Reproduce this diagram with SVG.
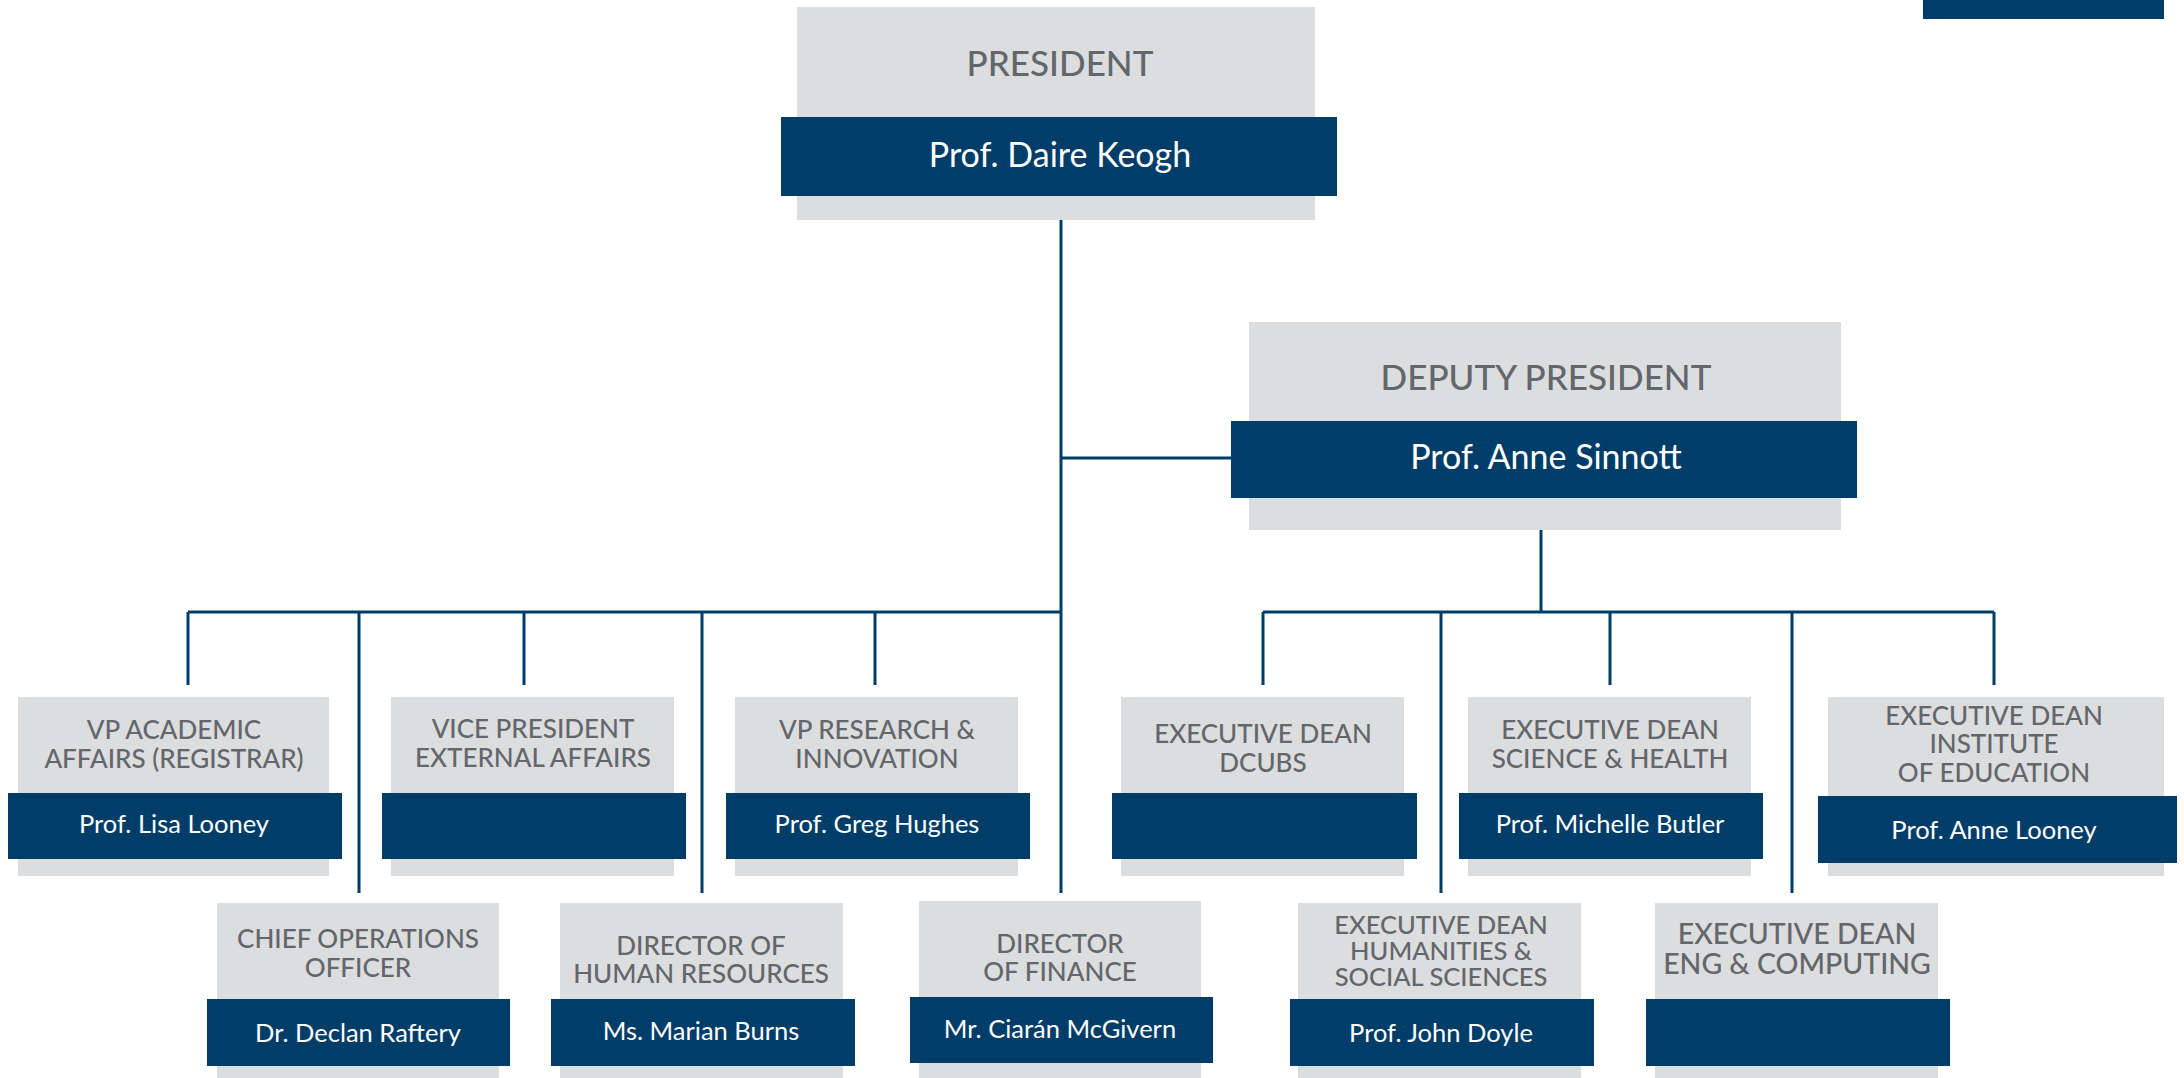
<svg xmlns="http://www.w3.org/2000/svg" width="2184" height="1078" viewBox="0 0 2184 1078">
<style>
.bg{fill:#dcdddf}
.bar{fill:#003d68}
.t{font-family:Lato,"Liberation Sans",sans-serif;font-weight:500;fill:#63666a;text-anchor:middle;font-size:26px}
.tl{font-size:35px}
.n{font-family:Lato,"Liberation Sans",sans-serif;font-weight:400;fill:#ffffff;text-anchor:middle;font-size:25.5px}
.nl{font-size:34px}
.c{stroke:#003d68;stroke-width:3;fill:none}
</style>
<rect width="2184" height="1078" fill="#ffffff"/>
<rect x="1923" y="0" width="241" height="19" class="bar"/>
<g id="connectors">
<path class="c" d="M1061 220V893"/>
<path class="c" d="M1061 458H1231"/>
<path class="c" d="M188 612H1061"/>
<path class="c" d="M188 612V685M524 612V685M875 612V685"/>
<path class="c" d="M359 612V893M702 612V893"/>
<path class="c" d="M1541 530V612"/>
<path class="c" d="M1263 612H1994"/>
<path class="c" d="M1263 612V685M1610 612V685M1994 612V685"/>
<path class="c" d="M1441 612V893M1792 612V893"/>
</g>
<g id="president">
<rect class="bg" x="797" y="7" width="518" height="213"/>
<rect class="bar" x="781" y="117" width="556" height="79"/>
<text class="t tl" x="1060" y="76">PRESIDENT</text>
<text class="n nl" x="1060" y="167">Prof. Daire Keogh</text>
</g>
<g id="deputy">
<rect class="bg" x="1249" y="322" width="592" height="208"/>
<rect class="bar" x="1231" y="421" width="626" height="77"/>
<text class="t tl" x="1546" y="390">DEPUTY PRESIDENT</text>
<text class="n nl" x="1546" y="469">Prof. Anne Sinnott</text>
</g>
<g id="vp-academic">
<rect class="bg" x="18" y="697" width="311" height="179"/>
<rect class="bar" x="8" y="793" width="334" height="66"/>
<text class="t" x="174" y="739">VP ACADEMIC</text>
<text class="t" x="174" y="768">AFFAIRS (REGISTRAR)</text>
<text class="n" x="174" y="833">Prof. Lisa Looney</text>
</g>
<g id="vp-external">
<rect class="bg" x="391" y="697" width="283" height="179"/>
<rect class="bar" x="382" y="793" width="304" height="66"/>
<text class="t" x="533" y="738">VICE PRESIDENT</text>
<text class="t" x="533" y="767">EXTERNAL AFFAIRS</text>
</g>
<g id="vp-research">
<rect class="bg" x="735" y="697" width="283" height="179"/>
<rect class="bar" x="726" y="793" width="304" height="66"/>
<text class="t" x="877" y="739">VP RESEARCH &amp;</text>
<text class="t" x="877" y="768">INNOVATION</text>
<text class="n" x="877" y="833">Prof. Greg Hughes</text>
</g>
<g id="dean-dcubs">
<rect class="bg" x="1121" y="697" width="283" height="179"/>
<rect class="bar" x="1112" y="793" width="305" height="66"/>
<text class="t" x="1263" y="743">EXECUTIVE DEAN</text>
<text class="t" x="1263" y="772">DCUBS</text>
</g>
<g id="dean-science">
<rect class="bg" x="1468" y="697" width="283" height="179"/>
<rect class="bar" x="1459" y="793" width="304" height="66"/>
<text class="t" x="1610" y="739">EXECUTIVE DEAN</text>
<text class="t" x="1610" y="768">SCIENCE &amp; HEALTH</text>
<text class="n" x="1610" y="833">Prof. Michelle Butler</text>
</g>
<g id="dean-education">
<rect class="bg" x="1828" y="697" width="336" height="179"/>
<rect class="bar" x="1818" y="796" width="359" height="67"/>
<text class="t" x="1994" y="725">EXECUTIVE DEAN</text>
<text class="t" x="1994" y="753">INSTITUTE</text>
<text class="t" x="1994" y="782">OF EDUCATION</text>
<text class="n" x="1994" y="839">Prof. Anne Looney</text>
</g>
<g id="coo">
<rect class="bg" x="217" y="903" width="282" height="175"/>
<rect class="bar" x="207" y="999" width="303" height="67"/>
<text class="t" x="358" y="948">CHIEF OPERATIONS</text>
<text class="t" x="358" y="977">OFFICER</text>
<text class="n" x="358" y="1042">Dr. Declan Raftery</text>
</g>
<g id="director-hr">
<rect class="bg" x="560" y="903" width="283" height="175"/>
<rect class="bar" x="551" y="999" width="304" height="67"/>
<text class="t" x="701" y="955">DIRECTOR OF</text>
<text class="t" x="701" y="983">HUMAN RESOURCES</text>
<text class="n" x="701" y="1040">Ms. Marian Burns</text>
</g>
<g id="director-finance">
<rect class="bg" x="919" y="901" width="282" height="177"/>
<rect class="bar" x="910" y="997" width="303" height="66"/>
<text class="t" x="1060" y="953">DIRECTOR</text>
<text class="t" x="1060" y="981">OF FINANCE</text>
<text class="n" x="1060" y="1038">Mr. Ciarán McGivern</text>
</g>
<g id="dean-humanities">
<rect class="bg" x="1298" y="903" width="283" height="175"/>
<rect class="bar" x="1290" y="999" width="304" height="67"/>
<text class="t" x="1441" y="934" style="font-size:25.5px">EXECUTIVE DEAN</text>
<text class="t" x="1441" y="960" style="font-size:25.5px">HUMANITIES &amp;</text>
<text class="t" x="1441" y="986" style="font-size:25.5px">SOCIAL SCIENCES</text>
<text class="n" x="1441" y="1042">Prof. John Doyle</text>
</g>
<g id="dean-engineering">
<rect class="bg" x="1655" y="903" width="283" height="175"/>
<rect class="bar" x="1646" y="999" width="304" height="67"/>
<text class="t" x="1797" y="944" style="font-size:28.5px">EXECUTIVE DEAN</text>
<text class="t" x="1797" y="974" style="font-size:28.5px">ENG &amp; COMPUTING</text>
</g>
</svg>
